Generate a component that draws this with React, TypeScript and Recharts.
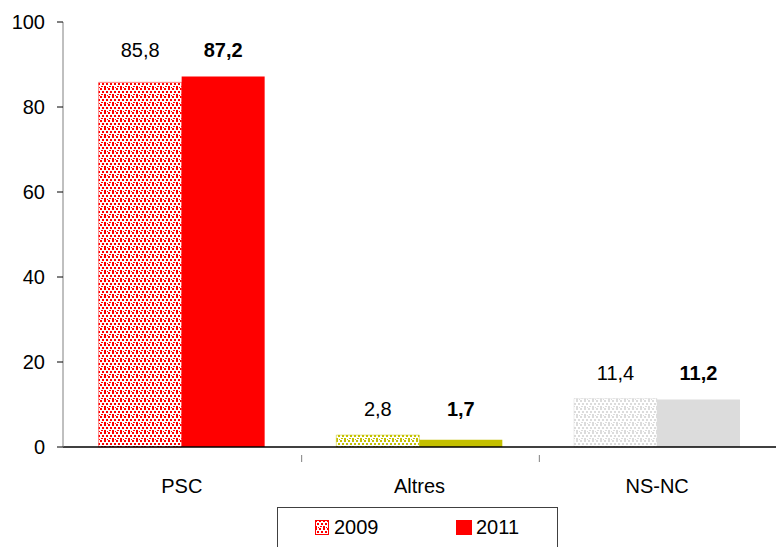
import { BarChart, Bar, XAxis, YAxis, Cell } from 'recharts'

const categories = ['PSC', 'Altres', 'NS-NC']
const values2009 = [85.8, 2.8, 11.4]
const values2011 = [87.2, 1.7, 11.2]
const yTicks = [0, 20, 40, 60, 80, 100]

const solidColors = ['#FF0000', '#C4C000', '#DCDCDC']
const patternIds = ['pat-red', 'pat-olive', 'pat-gray']

const data = categories.map((name, i) => ({ name, y2009: values2009[i], y2011: values2011[i] }))

const W = 776
const H = 547
const LEFT = 63
const BAND = (W - LEFT) / categories.length
const FONT = 'Arial, "Liberation Sans", sans-serif'
const FS = 20

const fmt = (v: number) => v.toFixed(1).replace('.', ',')

// irregular dot texture, like Excel's "confetti" fill
function Dots({ id, color }: { id: string; color: string }) {
  return (
    <pattern id={id} width={8} height={8} patternUnits="userSpaceOnUse">
      <rect width={8} height={8} fill="#fff" />
      <rect x={0} y={0} width={2} height={2} fill={color} />
      <rect x={4} y={0} width={2} height={2} fill={color} />
      <rect x={2} y={3} width={2} height={2} fill={color} />
      <rect x={6} y={3} width={2} height={2} fill={color} />
      <rect x={0} y={6} width={2} height={2} fill={color} />
      <rect x={5} y={6} width={2} height={1} fill={color} />
      <rect x={3} y={7} width={1} height={1} fill={color} />
    </pattern>
  )
}

const makeLabel = (bold: boolean) => (props: any) => {
  const { x, y, width, height, value, index } = props
  const base = y + height
  const unit = value ? height / value : 0
  const top = base - Math.max(values2009[index], values2011[index]) * unit
  return (
    <text
      x={x + width / 2}
      y={top - 19}
      textAnchor="middle"
      fontFamily={FONT}
      fontSize={FS}
      fontWeight={bold ? 'bold' : 'normal'}
      fill="#000"
    >
      {fmt(value)}
    </text>
  )
}

function CategoryTick(props: any) {
  const { x, y, payload, index } = props
  return (
    <g>
      {index > 0 && <line x1={x - BAND / 2 + 1} x2={x - BAND / 2 + 1} y1={y} y2={y + 7} stroke="#808080" />}
      <text x={x} y={y + 38} textAnchor="middle" fontFamily={FONT} fontSize={FS} fill="#000">
        {payload.value}
      </text>
    </g>
  )
}

function LegendBox() {
  return (
    <div
      style={{
        position: 'absolute',
        left: 277,
        top: 507,
        border: '1px solid #404040',
        width: 281,
        height: 50,
        boxSizing: 'border-box',
        fontFamily: FONT,
        fontSize: FS,
        lineHeight: '20px',
        background: '#fff',
      }}
    >
      <svg width={14} height={15} style={{ position: 'absolute', left: 37, top: 12 }}>
        <rect x={0.5} y={0.5} width={13} height={14} fill="url(#pat-red)" stroke="#FF0000" />
      </svg>
      <span style={{ position: 'absolute', left: 56, top: 9 }}>2009</span>
      <svg width={16} height={15} style={{ position: 'absolute', left: 178, top: 12 }}>
        <rect width={16} height={15} fill="#FF0000" />
      </svg>
      <span style={{ position: 'absolute', left: 198, top: 9 }}>2011</span>
    </div>
  )
}

export default function App() {
  return (
    <div style={{ width: W, height: H, background: '#fff', position: 'relative', overflow: 'hidden' }}>
      <style>{'body{margin:0}'}</style>
      <BarChart
        width={W}
        height={H}
        data={data}
        margin={{ top: 22, right: 0, left: 0, bottom: 60 }}
        barCategoryGap="15%"
        barGap={0}
      >
        <defs>
          <Dots id="pat-red" color="#FF0000" />
          <Dots id="pat-olive" color="#C4C000" />
          <Dots id="pat-gray" color="#DCDCDC" />
        </defs>
        <XAxis
          dataKey="name"
          axisLine={{ stroke: '#000', strokeWidth: 1.5 }}
          tickLine={false}
          tick={<CategoryTick />}
          height={40}
          interval={0}
        />
        <YAxis
          width={LEFT}
          domain={[0, 100]}
          ticks={yTicks}
          axisLine={{ stroke: '#808080' }}
          tickLine={{ stroke: '#000' }}
          tickSize={6}
          tickMargin={12}
          tick={{ fill: '#000', fontSize: FS, fontFamily: FONT }}
        />
        <Bar dataKey="y2009" isAnimationActive={false} label={makeLabel(false)}>
          {data.map((_, i) => (
            <Cell key={i} fill={`url(#${patternIds[i]})`} stroke={solidColors[i]} strokeWidth={0.5} />
          ))}
        </Bar>
        <Bar dataKey="y2011" isAnimationActive={false} label={makeLabel(true)}>
          {data.map((_, i) => (
            <Cell key={i} fill={solidColors[i]} />
          ))}
        </Bar>
      </BarChart>
      <LegendBox />
    </div>
  )
}
